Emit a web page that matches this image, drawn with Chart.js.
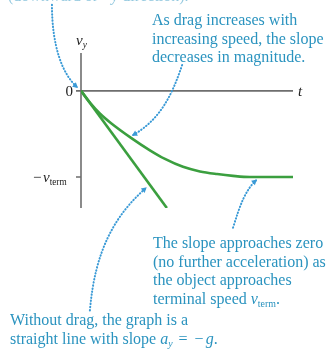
<!DOCTYPE html>
<html>
<head>
<meta charset="utf-8">
<script src="https://cdn.jsdelivr.net/npm/chart.js@4.4.1/dist/chart.umd.min.js"></script>
<style>
  html, body { margin: 0; padding: 0; background: #fff; }
  #wrap { width: 329px; height: 354px; }
</style>
</head>
<body>
<div id="wrap"><canvas id="vy-chart"></canvas></div>
<script>
// velocity vs time for a falling body, v_term = 1
const timeDrag = [0, 0.45, 0.9, 1.42, 2.36, 3.25, 3.96, 4.81, 5.61, 6.42, 7.17, 7.97, 10];
const velDrag = [0, -0.145, -0.265, -0.375, -0.545, -0.69, -0.79, -0.882, -0.935, -0.966, -0.987, -1, -1];
// no drag: straight line, slope -g
const timeFree = [0, 4.05];
const velFree = [0, -1.36];
// axis ticks
const tickValues = [0, -1];
const tickLabels = ["0", "−v_term"];

const GREEN = "#3b9f3f";
const BLUE_TEXT = "#2a93bf";
const BLUE_DOT = "#3a9ad6";
const AXIS = "#6e6e6e";
const SERIF = '"Liberation Serif", "DejaVu Serif", serif';

// dotted callout arrows, cubic curves in (t, v) space: start, c1, c2, tip
const callouts = [
  [[-1.37, 1.0], [-1.37, 0.53], [-0.9, 0.19], [-0.14, 0.035]],
  [[4.77, 0.3], [4.29, -0.05], [3.73, -0.34], [2.4, -0.52]],
  [[0.42, -2.55], [0.66, -1.85], [1.6, -1.44], [3.1, -1.12]],
  [[7.17, -1.59], [7.5, -1.33], [7.74, -1.15], [8.3, -1.03]]
];

function zip(xs, ys) {
  return xs.map((x, i) => ({ x: x, y: ys[i] }));
}

// draw a row of text pieces; pieces can be italic, subscript or a blank gap
function drawRuns(ctx, x, y, runs, size) {
  let cx = x;
  runs.forEach(r => {
    if (r.gap) { cx += r.gap; return; }
    const s = r.sub ? size * 0.62 : size;
    ctx.font = (r.italic ? "italic " : "") + s + "px " + SERIF;
    ctx.fillText(r.text, cx, y + (r.sub ? size * 0.22 : 0));
    cx += ctx.measureText(r.text).width;
  });
  return cx;
}

const figurePlugin = {
  id: "figure",
  beforeDatasetsDraw(chart) {
    const ctx = chart.ctx;
    const xs = chart.scales.x, ys = chart.scales.y;
    const x0 = xs.getPixelForValue(0);
    const y0 = ys.getPixelForValue(0);
    ctx.save();
    ctx.strokeStyle = AXIS;
    ctx.lineWidth = 1.6;
    ctx.beginPath();
    ctx.moveTo(x0, ys.top);
    ctx.lineTo(x0, ys.bottom);
    ctx.moveTo(x0, y0);
    ctx.lineTo(xs.right, y0);
    tickValues.forEach(v => {
      const ty = ys.getPixelForValue(v);
      ctx.moveTo(x0 - 5, ty);
      ctx.lineTo(x0, ty);
    });
    ctx.stroke();
    ctx.restore();
  },
  afterDraw(chart) {
    const ctx = chart.ctx;
    const xs = chart.scales.x, ys = chart.scales.y;
    const px = p => [xs.getPixelForValue(p[0]), ys.getPixelForValue(p[1])];
    const x0 = xs.getPixelForValue(0);
    ctx.save();

    // axis labels
    ctx.fillStyle = "#222";
    ctx.textBaseline = "alphabetic";
    const y0 = ys.getPixelForValue(0);
    const yT = ys.getPixelForValue(-1);
    ctx.font = "15px " + SERIF;
    ctx.textAlign = "right";
    ctx.fillText(tickLabels[0], x0 - 8, y0 + 5);
    ctx.textAlign = "left";
    const nameParts = tickLabels[1].split("_");
    ctx.font = "15px " + SERIF;
    const lx = x0 - 48;
    ctx.fillText(nameParts[0].charAt(0), lx, yT + 5);
    drawRuns(ctx, lx + 10, yT + 5, [
      { text: nameParts[0].slice(1), italic: true },
      { text: nameParts[1], sub: true }
    ], 15);
    drawRuns(ctx, x0 - 5, ys.top - 8, [
      { text: "v", italic: true },
      { text: "y", italic: true, sub: true }
    ], 15);
    drawRuns(ctx, xs.right + 5, y0 + 5, [{ text: "t", italic: true }], 15);

    // dotted callouts
    ctx.strokeStyle = BLUE_DOT;
    ctx.fillStyle = BLUE_DOT;
    ctx.lineWidth = 2;
    ctx.lineCap = "round";
    callouts.forEach(c => {
      const p = c.map(px);
      ctx.setLineDash([0.5, 2.6]);
      ctx.beginPath();
      ctx.moveTo(p[0][0], p[0][1]);
      ctx.bezierCurveTo(p[1][0], p[1][1], p[2][0], p[2][1], p[3][0], p[3][1]);
      ctx.stroke();
      ctx.setLineDash([]);
      const a = Math.atan2(p[3][1] - p[2][1], p[3][0] - p[2][0]);
      ctx.beginPath();
      ctx.moveTo(p[3][0], p[3][1]);
      ctx.lineTo(p[3][0] - 6 * Math.cos(a - 0.5), p[3][1] - 6 * Math.sin(a - 0.5));
      ctx.lineTo(p[3][0] - 6 * Math.cos(a + 0.5), p[3][1] - 6 * Math.sin(a + 0.5));
      ctx.closePath();
      ctx.fill();
    });

    // notes
    ctx.fillStyle = BLUE_TEXT;
    ctx.textAlign = "left";
    const size = 16;
    const lh = 18.6;
    ctx.globalAlpha = 0.5;
    drawRuns(ctx, 8, 1, [{ text: "(downward or −" }, { text: "y", italic: true }, { text: " direction)." }], size);
    ctx.globalAlpha = 1;
    ["As drag increases with", "increasing speed, the slope", "decreases in magnitude."]
      .forEach((s, i) => drawRuns(ctx, 152, 25 + i * lh, [{ text: s }], size));
    ["The slope approaches zero", "(no further acceleration) as", "the object approaches"]
      .forEach((s, i) => drawRuns(ctx, 153, 248 + i * lh, [{ text: s }], size));
    drawRuns(ctx, 153, 248 + 3 * lh, [
      { text: "terminal speed " }, { text: "v", italic: true }, { text: "term", sub: true }, { text: "." }
    ], size);
    drawRuns(ctx, 10, 325, [{ text: "Without drag, the graph is a" }], size);
    drawRuns(ctx, 10, 325 + lh, [
      { text: "straight line with slope " }, { text: "a", italic: true }, { text: "y", italic: true, sub: true },
      { gap: 6 }, { text: "=" }, { gap: 7 }, { text: "−" }, { gap: 2 }, { text: "g", italic: true }, { text: "." }
    ], size);
    ctx.restore();
  }
};

new Chart(document.getElementById("vy-chart"), {
  type: "line",
  data: {
    datasets: [
      {
        label: "with drag",
        data: zip(timeDrag, velDrag),
        borderColor: GREEN,
        borderWidth: 2.6,
        pointRadius: 0,
        cubicInterpolationMode: "monotone",
        fill: false
      },
      {
        label: "without drag",
        data: zip(timeFree, velFree),
        borderColor: GREEN,
        borderWidth: 2.6,
        pointRadius: 0,
        fill: false
      }
    ]
  },
  options: {
    responsive: true,
    maintainAspectRatio: false,
    animation: false,
    layout: { padding: { left: 81, right: 36, top: 53, bottom: 146 } },
    scales: {
      x: { type: "linear", min: 0, max: 10, display: false },
      y: { type: "linear", min: -1.36, max: 0.44, display: false }
    },
    plugins: {
      legend: { display: false },
      tooltip: { enabled: false }
    }
  },
  plugins: [figurePlugin]
});
</script>
</body>
</html>
